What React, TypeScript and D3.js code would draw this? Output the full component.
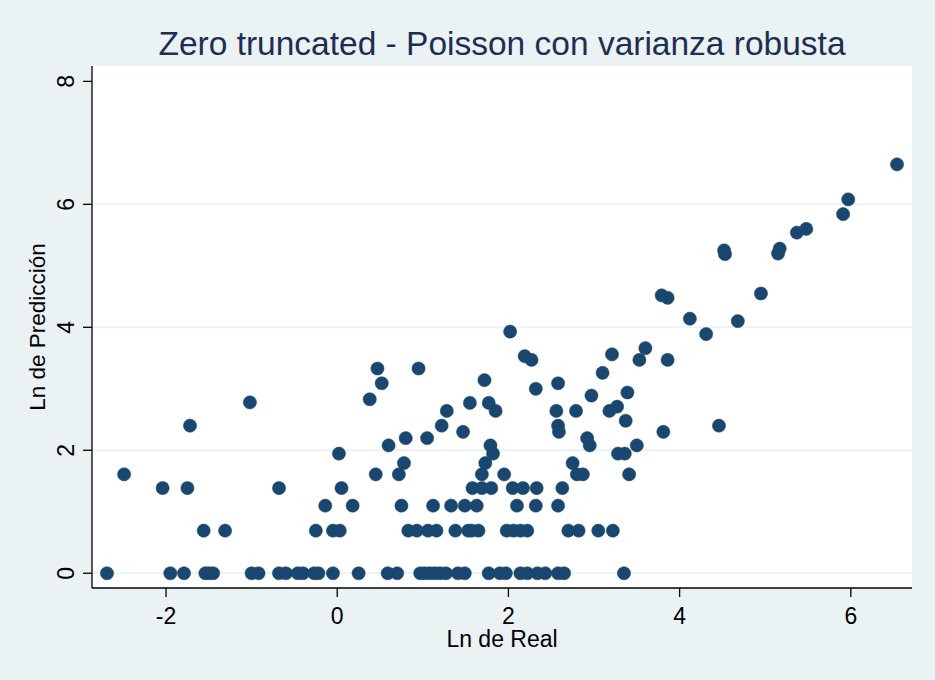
import React from "react";
import * as d3 from "d3";

// ---- Data (Ln de Real vs Ln de Predicción) ----
// Points lying on the discrete prediction levels: x values per level
const level0: number[] = [-2.69, -1.95, -1.79, -1.54, -1.50, -1.45, -1.0, -0.92, -0.68, -0.6, -0.46, -0.4, -0.27, -0.22, -0.05, 0.25, 0.59, 0.7, 0.97, 1.02, 1.08, 1.14, 1.2, 1.27, 1.41, 1.49, 1.77, 1.9, 1.97, 2.14, 2.22, 2.34, 2.43, 2.58, 2.65, 3.35];
const level069: number[] = [-1.56, -1.31, -0.25, -0.05, 0.03, 0.83, 0.93, 1.06, 1.16, 1.38, 1.53, 1.57, 1.65, 1.98, 2.06, 2.14, 2.22, 2.7, 2.82, 3.05, 3.22];
const level110: number[] = [-0.14, 0.18, 0.75, 1.12, 1.33, 1.49, 1.63, 2.1, 2.32, 2.58];
const level139: number[] = [-2.04, -1.75, -0.68, 0.05, 1.58, 1.69, 1.8, 2.05, 2.17, 2.33, 2.63];
const level161: number[] = [-2.49, 0.45, 0.72, 1.69, 1.95, 2.8, 2.87, 3.41];
const level179: number[] = [0.78, 1.73, 2.75];
const level195: number[] = [0.02, 1.82, 3.28, 3.36];
const level208: number[] = [0.6, 1.79, 2.95, 3.5];
const level220: number[] = [0.8, 1.05, 2.92];
const levelValues: number[] = [0, 0.693, 1.099, 1.386, 1.609, 1.792, 1.946, 2.079, 2.197];

// Remaining points as [Ln de Real, Ln de Predicción]
const upperPoints: [number, number][] = [
  [-1.72, 2.4], [-1.02, 2.78], [0.38, 2.83], [0.47, 3.33], [0.52, 3.09], [0.95, 3.33],
  [1.22, 2.4], [1.28, 2.64], [1.47, 2.3], [1.55, 2.77], [1.72, 3.14], [1.77, 2.77],
  [1.85, 2.64], [2.02, 3.93], [2.19, 3.53], [2.27, 3.47], [2.32, 3.0], [2.58, 3.09],
  [2.56, 2.64], [2.58, 2.4], [2.59, 2.3], [2.79, 2.64], [2.97, 2.89], [3.1, 3.26],
  [3.21, 3.56], [3.18, 2.64], [3.27, 2.71], [3.39, 2.94], [3.37, 2.48], [3.53, 3.47],
  [3.6, 3.66], [3.86, 3.47], [3.81, 2.3], [4.46, 2.4], [3.79, 4.52], [3.86, 4.48],
  [4.12, 4.14], [4.31, 3.89], [4.68, 4.1], [4.95, 4.55], [4.52, 5.25], [4.53, 5.19],
  [5.15, 5.2], [5.17, 5.28], [5.37, 5.54], [5.48, 5.6], [5.91, 5.84], [5.97, 6.08],
  [6.54, 6.65],
];

const xTicks: number[] = [-2, 0, 2, 4, 6];
const yTicks: number[] = [0, 2, 4, 6, 8];
const yGrid: number[] = [0, 2, 4, 6];

const titleText = "Zero truncated - Poisson con varianza robusta";
const xLabel = "Ln de Real";
const yLabel = "Ln de Predicción";

export default function App() {
  const W = 935;
  const H = 680;
  const left = 92, right = 912, top = 66, bottom = 588;

  const x = d3.scaleLinear().domain([-2.865, 6.715]).range([left, right]);
  const y = d3.scaleLinear().domain([-0.24, 8.25]).range([bottom, top]);

  const levels = [level0, level069, level110, level139, level161, level179, level195, level208, level220];
  const points: [number, number][] = [];
  levels.forEach((xs, i) => xs.forEach((v) => points.push([v, levelValues[i]])));
  upperPoints.forEach((p) => points.push(p));

  const font = "'Liberation Sans', Arial, Helvetica, sans-serif";
  const bg = "#EAF2F3";
  const navy = "#1A476F";

  return (
    <svg
      width={W}
      height={H}
      style={{ position: "absolute", left: 0, top: 0, display: "block" }}
      fontFamily={font}
    >
      <rect x={0} y={0} width={W} height={H} fill={bg} />
      <rect x={left} y={top} width={right - left} height={bottom - top} fill="#ffffff" />

      {/* grid lines */}
      {yGrid.map((t) => (
        <line key={"g" + t} x1={left} x2={right} y1={y(t)} y2={y(t)} stroke="#EAF2F3" strokeWidth={2} />
      ))}

      {/* points */}
      {points.map((p, i) => (
        <circle key={i} cx={x(p[0])} cy={y(p[1])} r={6.6} fill={navy} stroke={navy} strokeWidth={0.5} />
      ))}

      {/* axes */}
      <line x1={left} x2={left} y1={top} y2={bottom} stroke="#000" strokeWidth={1.3} />
      <line x1={left} x2={right} y1={bottom} y2={bottom} stroke="#000" strokeWidth={1.3} />

      {/* y ticks */}
      {yTicks.map((t) => (
        <g key={"y" + t}>
          <line x1={left - 9} x2={left} y1={y(t)} y2={y(t)} stroke="#000" strokeWidth={1.3} />
          <text
            transform={`translate(${73.5},${y(t)}) rotate(-90)`}
            textAnchor="middle"
            fontSize={23}
            fill="#000"
          >
            {t}
          </text>
        </g>
      ))}

      {/* x ticks */}
      {xTicks.map((t) => (
        <g key={"x" + t}>
          <line x1={x(t)} x2={x(t)} y1={bottom} y2={bottom + 9} stroke="#000" strokeWidth={1.3} />
          <text x={x(t)} y={623.5} textAnchor="middle" fontSize={23} fill="#000">
            {t}
          </text>
        </g>
      ))}

      {/* axis titles */}
      <text x={(left + right) / 2} y={647} textAnchor="middle" fontSize={23} fill="#000">
        {xLabel}
      </text>
      <text
        transform={`translate(${45},${(top + bottom) / 2}) rotate(-90)`}
        textAnchor="middle"
        fontSize={22.5}
        fill="#000"
      >
        {yLabel}
      </text>

      {/* title */}
      <text x={(left + right) / 2} y={55} textAnchor="middle" fontSize={33.5} fill="#1E2E52">
        {titleText}
      </text>
    </svg>
  );
}
